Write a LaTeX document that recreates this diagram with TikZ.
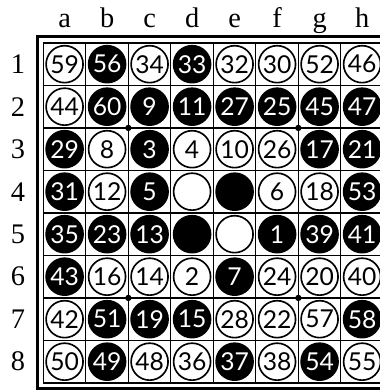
\documentclass[tikz,border=0pt]{standalone}
\usepackage{fontspec}
\setmainfont{Liberation Serif}
\newfontfamily\stonefont{Lato}
\usepackage{tikz}
\usetikzlibrary{positioning}
\tikzset{
  stone w/.style={circle, draw=black, line width=1.1pt, fill=white,
                  minimum size=0.87cm, inner sep=0pt,
                  font=\stonefont\fontsize{16.5}{16.5}\selectfont},
  stone b/.style={stone w, fill=black, text=white},
  hoshi/.style={circle, fill=black, inner sep=0pt, minimum size=0.15cm},
  coordlabel/.style={font=\fontsize{19}{19}\selectfont, inner sep=1pt},
  gridline/.style={line width=0.8pt, draw=black},
}

\begin{document}
\begin{tikzpicture}[x=1cm, y=-1cm]
  \useasboundingbox (-1.02,-1.01) rectangle (7.90,8.19);

  % Frame and grid
  \draw[line width=2pt] (-0.14,-0.16) rectangle (8.14,8.12);
  \draw[gridline] (0,0) rectangle (8,8);
  \foreach \i in {1,...,7} {
    \draw[gridline] (\i,0) -- (\i,8);
    \draw[gridline] (0,\i) -- (8,\i);
  }

  % Star points
  \node[hoshi] (h1) at (2,2) {};
  \node[hoshi] (h2) at (6,2) {};
  \node[hoshi] (h3) at (2,6) {};
  \node[hoshi] (h4) at (6,6) {};

  % Coordinates
  \foreach [count=\c] \l in {a,b,c,d,e,f,g,h}
    \node[coordlabel, anchor=base] (col\l) at (\c-0.5,-0.36) {\l};
  \foreach \r in {1,...,8}
    \node[coordlabel] (row\r) at (-0.6,\r-0.5) {\r};

  % Stones, row by row
  \foreach \r/\list in {
      1/{w/59,b/56,w/34,b/33,w/32,w/30,w/52,w/46},
      2/{w/44,b/60,b/9,b/11,b/27,b/25,b/45,b/47},
      3/{b/29,w/8,b/3,w/4,w/10,w/26,b/17,b/21},
      4/{b/31,w/12,b/5,w/{},b/{},w/6,w/18,b/53},
      5/{b/35,b/23,b/13,b/{},w/{},b/1,b/39,b/41},
      6/{b/43,w/16,w/14,w/2,b/7,w/24,w/20,w/40},
      7/{w/42,b/51,b/19,b/15,w/28,w/22,w/57,b/58},
      8/{w/50,b/49,w/48,w/36,b/37,w/38,b/54,w/55}} {
    \foreach [count=\c] \s/\n in \list
      \node[stone \s] (s\c-\r) at (\c-0.5,\r-0.5) {\n};
  }
\end{tikzpicture}
\end{document}
